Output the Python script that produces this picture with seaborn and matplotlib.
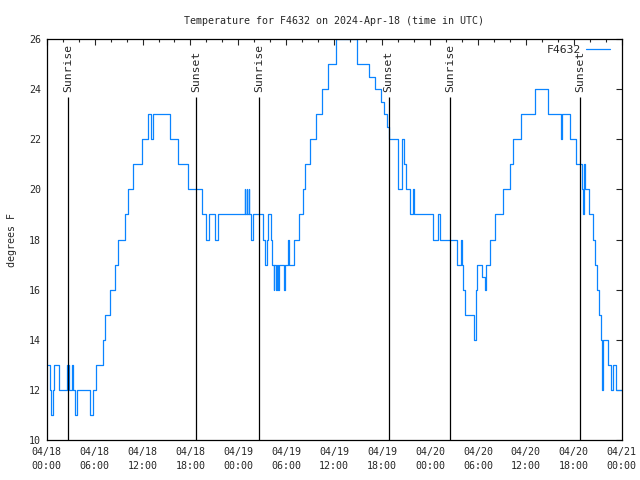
import pandas as pd
import matplotlib
matplotlib.use('Agg')
import matplotlib.pyplot as plt
import matplotlib.dates as mdates
import seaborn as sns

sns.set_style('white')
plt.rcParams['font.family'] = ['DejaVu Sans Mono']
plt.rcParams['font.size'] = 7.2

start = pd.Timestamp('2024-04-18 00:00')

# hours after 04/18 00:00 UTC where the reading changes, and the reading (deg F)
hours = [0.2, 0.35, 0.55, 0.75, 0.95, 1.5,
         2.6, 2.8, 3.2, 3.35, 3.6, 3.85, 5.45, 5.8, 6.2,
         7.05, 7.3, 7.9, 8.6, 8.9, 9.85, 10.2, 10.85, 11.9, 12.7, 13.1, 13.3,
         15.5, 16.45, 17.65,
         19.5, 19.95, 20.35, 21.1, 21.4,
         24.8, 24.88, 25.02, 25.1, 25.3, 25.38, 25.6, 25.8,
         27.1, 27.3, 27.55, 27.7, 28.05, 28.2, 28.4, 28.5, 28.7, 28.78, 28.95, 29.05,
         29.7, 29.8, 30.2, 30.4, 30.95, 31.6, 32.1, 32.3, 32.95, 33.7, 34.5, 35.2, 36.2,
         38.9, 40.4, 41.1, 41.9, 42.2, 42.6, 42.8,
         43.95, 44.55, 44.7, 45.0, 45.45, 45.9, 46.05,
         48.4, 49.05, 49.2,
         51.4, 51.85, 51.95, 52.15, 52.4, 53.5, 53.7, 53.85, 54.45, 54.9, 55.05, 55.45,
         56.1, 57.15, 58.0, 58.35, 59.4, 61.2, 62.8, 64.45, 64.58, 65.55, 66.3,
         67.05, 67.15, 67.3, 67.45, 67.85, 68.4, 68.65, 68.9, 69.2, 69.45, 69.55, 69.65,
         70.3, 70.6, 70.9, 71.3, 72.0]
temps = [13, 12, 11, 12, 13, 12,
         13, 12, 13, 12, 11, 12, 11, 12, 13,
         14, 15, 16, 17, 18, 19, 20, 21, 22, 23, 22, 23,
         22, 21, 20,
         19, 18, 19, 18, 19,
         20, 19, 20, 19, 20, 19, 18, 19,
         18, 17, 18, 19, 18, 17, 16, 17, 16, 17, 16, 17,
         16, 17, 18, 17, 18, 19, 20, 21, 22, 23, 24, 25, 26,
         25, 24.5, 24, 23.5, 23, 22.5, 22,
         20, 22, 21, 20, 19, 20, 19,
         18, 19, 18,
         17, 18, 17, 16, 15, 14, 16, 17, 16.5, 16, 17, 18,
         19, 20, 21, 22, 23, 24, 23, 22, 23, 22, 21,
         20, 19, 21, 20, 19, 18, 17, 16, 15, 14, 12, 14,
         13, 12, 13, 12, 12]

sunrise_hours = [2.7, 26.6, 50.5]
sunset_hours = [18.7, 42.8, 66.8]

df = pd.DataFrame({'time': start + pd.to_timedelta(hours, unit='h'), 'temp': temps})

fig = plt.figure(figsize=(6.4, 4.8), dpi=100)
ax = fig.add_axes([0.073, 0.0833, 0.8984, 0.8354])

sns.lineplot(data=df, x='time', y='temp', drawstyle='steps-post', color='#0a84ff',
             lw=0.9, label='F4632', ax=ax)

# sunrise / sunset markers
for name, hrs in [('Sunrise', sunrise_hours), ('Sunset', sunset_hours)]:
    for h in hrs:
        t = start + pd.Timedelta(hours=h)
        ax.vlines(t, 10, 23.7, color='black', lw=0.9)
        ax.text(t, 23.9, name, rotation=90, ha='center', va='bottom', fontsize=8.2)

ax.set_xlim(start, start + pd.Timedelta(hours=72))
ax.set_ylim(10, 26)
ax.set_yticks(range(10, 27, 2))
ax.xaxis.set_major_locator(mdates.HourLocator(byhour=range(0, 24, 6)))
ax.xaxis.set_minor_locator(mdates.HourLocator(byhour=range(0, 24, 2)))
ax.xaxis.set_major_formatter(mdates.DateFormatter('%m/%d\n%H:%M'))
ax.tick_params(which='both', direction='in', top=True, right=True, width=0.8)
ax.tick_params(which='major', length=4, pad=5)
ax.tick_params(which='minor', length=2.2)
ax.tick_params(axis='y', pad=4)
for lbl in ax.get_xticklabels():
    lbl.set_linespacing(1.45)

ax.set_xlabel('')
ax.set_ylabel('degrees F', labelpad=9, fontsize=7.2)
ax.set_title('Temperature for F4632 on 2024-Apr-18 (time in UTC)', pad=11, fontsize=7.2)
for s in ax.spines.values():
    s.set_color('black')
    s.set_linewidth(0.9)

ax.legend(loc='upper right', frameon=False, markerfirst=False, handlelength=2.1,
          borderaxespad=0.3, handletextpad=0.45, fontsize=8.2,
          bbox_to_anchor=(0.9936, 1.006))

fig.savefig('out.png', dpi=100)
